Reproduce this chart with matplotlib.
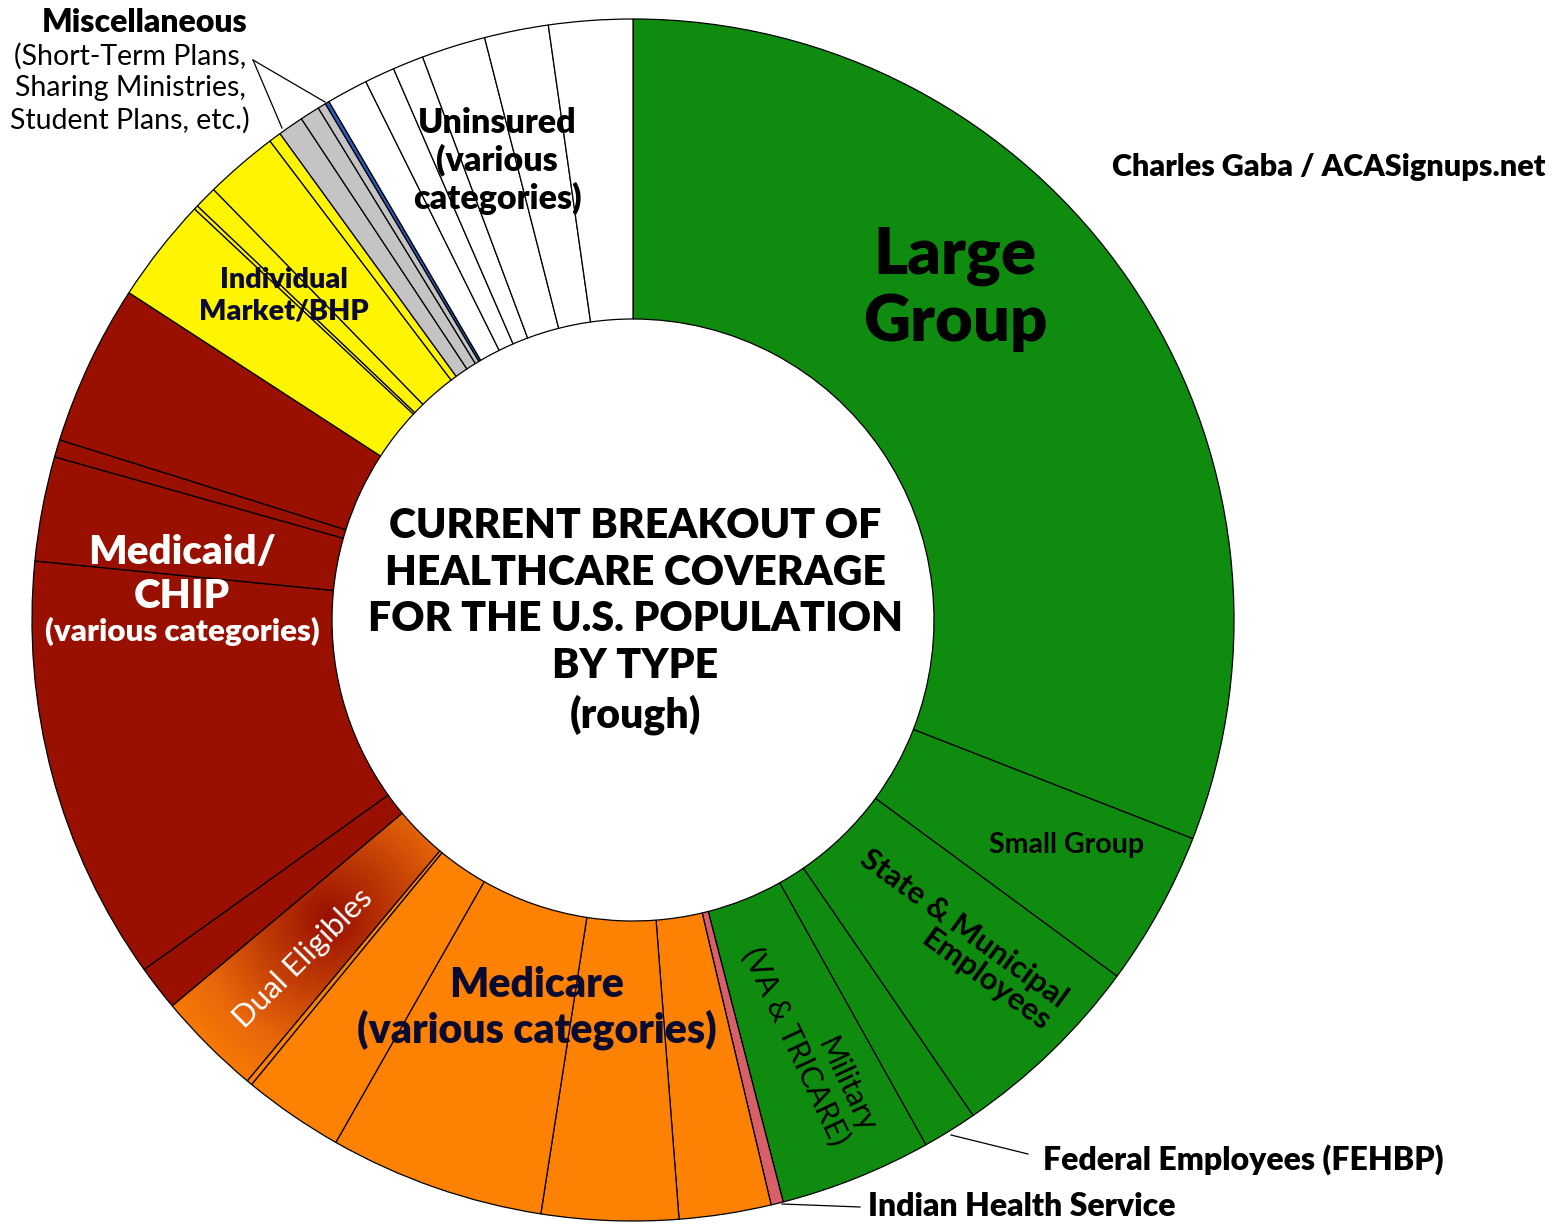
import numpy as np
import matplotlib
matplotlib.use("Agg")
import matplotlib.pyplot as plt
from matplotlib.colors import LinearSegmentedColormap

plt.rcParams['font.family'] = ['Lato', 'DejaVu Sans']

W, H = 1564, 1225

# shares of the population (rough %), clockwise from 12 o'clock
large_group = [30.92]
small_group = [4.17]
state_muni = [5.33]
federal = [1.47]
military = [4.08]
ihs = [0.33]
medicare = [2.47, 3.67, 5.78, 2.71, 0.15]
dual = [2.81]
medicaid = [1.22, 11.44, 2.81, 0.47, 4.32]
individual = [2.82, 0.11, 0.61, 1.97, 0.33]
misc = [0.69, 0.53, 0.22]
misc_blue = [0.11]
uninsured = [1.11, 0.81, 0.83, 1.72, 1.72, 2.25]

GREEN = '#0f8c0f'
ORANGE = '#fd8204'
RED = '#991000'
YELLOW = '#fff500'
GRAY = '#c4c4c4'
BLUE = '#2a5bc0'
PINK = '#d65f68'

groups = [
    (large_group, GREEN), (small_group, GREEN), (state_muni, GREEN),
    (federal, GREEN), (military, GREEN), (ihs, PINK),
    (medicare, ORANGE), (dual, ORANGE), (medicaid, RED),
    (individual, YELLOW), (misc, GRAY), (misc_blue, BLUE),
    (uninsured, 'white'),
]
values, colors = [], []
for vals, c in groups:
    values += vals
    colors += [c] * len(vals)
dual_idx = len(large_group + small_group + state_muni + federal + military
               + ihs + medicare)

fig = plt.figure(figsize=(W / 100, H / 100), dpi=100)
ax = fig.add_axes([0, 0, 1, 1])

cx, cy = 633, H - 620
r_out, ring = 601, 300
wedges, _ = ax.pie(values, colors=colors, startangle=90, counterclock=False,
                   radius=r_out, center=(cx, cy),
                   wedgeprops=dict(width=ring, edgecolor='black', linewidth=0.9))

# dual eligibles: orange -> dark red shading
dw = wedges[dual_idx]
mid = np.deg2rad(90 - 225)
mx, my = cx + 450 * np.cos(mid), cy + 450 * np.sin(mid)
gx, gy = np.meshgrid(np.linspace(mx - 320, mx + 320, 200),
                     np.linspace(my - 320, my + 320, 200))
dist = np.hypot(gx - mx - 15, gy - my - 20) / 200
cmap = LinearSegmentedColormap.from_list('dual', [RED, '#c03a05', '#e8680a', ORANGE])
img = ax.imshow(np.clip(dist, 0, 1), cmap=cmap, origin='lower',
                extent=(mx - 320, mx + 320, my - 320, my + 320), zorder=1.5,
                interpolation='bilinear')
img.set_clip_path(dw)
dw.set_facecolor('none')
dw.set_zorder(2)

ax.set_xlim(0, W)
ax.set_ylim(0, H)
ax.set_aspect('equal')
ax.axis('off')


def label(x, y, s, **kw):
    kw.setdefault('ha', 'center')
    kw.setdefault('va', 'center')
    ax.text(x, H - y, s, zorder=5, **kw)


NAVY = '#0b0b30'
label(635, 621, "CURRENT BREAKOUT OF\nHEALTHCARE COVERAGE\nFOR THE U.S. POPULATION\nBY TYPE\n(rough)",
      fontsize=29.5, fontweight='heavy', linespacing=1.28)
label(955, 289, "Large\nGroup", fontsize=47, fontweight='heavy', linespacing=1.15)
label(1067, 845, "Small Group", fontsize=20.5, fontweight='bold')
label(955, 940, "State & Municipal\nEmployees", fontsize=22.5, fontweight='bold',
      rotation=-36, rotation_mode='anchor', linespacing=1.0, multialignment='right')
label(809, 1040, "Military\n(VA & TRICARE)", fontsize=21.5, rotation=-65,
      rotation_mode='anchor', linespacing=1.0, multialignment='right')
label(537, 1008, "Medicare\n(various categories)", fontsize=29.5, fontweight='heavy',
      color=NAVY, linespacing=1.18)
label(303, 958, "Dual Eligibles", fontsize=22.5, color='white', rotation=45,
      rotation_mode='anchor')
label(182, 553, "Medicaid/", fontsize=29, fontweight='heavy', color='white')
label(182, 596, "CHIP", fontsize=29, fontweight='heavy', color='white')
label(182, 631, "(various categories)", fontsize=22.5, fontweight='heavy', color='white')
label(284, 296, "Individual\nMarket/BHP", fontsize=20.7, fontweight='heavy',
      color=NAVY, linespacing=1.25)
label(497, 161, "Uninsured\n(various\ncategories)", fontsize=24.5, fontweight='heavy',
      linespacing=1.2)
label(145, 22, "Miscellaneous", fontsize=23, fontweight='heavy')
label(130, 88, "(Short-Term Plans,\nSharing Ministries,\nStudent Plans, etc.)",
      fontsize=20.5, linespacing=1.26)
label(1329, 167, "Charles Gaba / ACASignups.net", fontsize=22, fontweight='heavy')
label(1043, 1160, "Federal Employees (FEHBP)", fontsize=23, fontweight='heavy', ha='left')
label(868, 1207, "Indian Health Service", fontsize=23, fontweight='heavy', ha='left')

# leader lines
for (x0, y0), (x1, y1) in [((951, 1135), (1028, 1154)),
                           ((782, 1204), (860, 1207)),
                           ((253, 60), (282, 128)),
                           ((253, 60), (325, 102))]:
    ax.plot([x0, x1], [H - y0, H - y1], color='black', lw=0.9, zorder=4)

fig.savefig('out.png', dpi=100, facecolor='white')
